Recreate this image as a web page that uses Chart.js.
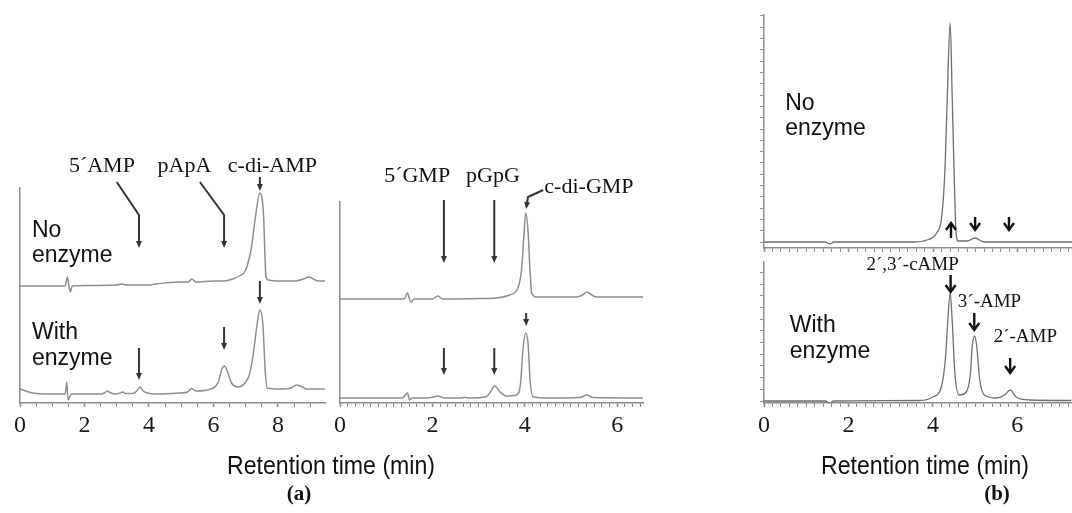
<!DOCTYPE html>
<html><head><meta charset="utf-8">
<script src="https://cdn.jsdelivr.net/npm/chart.js@4.4.1/dist/chart.umd.min.js"></script>
<style>
html,body{margin:0;padding:0;background:#fff;}
#wrap{position:relative;width:1072px;height:513px;overflow:hidden;background:#fff;}
canvas{position:absolute;left:0;top:0;}
</style></head><body>
<div id="wrap">
<canvas id="a1" width="1072" height="513"></canvas>
<canvas id="a2" width="1072" height="513"></canvas>
<canvas id="b1" width="1072" height="513"></canvas>
<canvas id="b2" width="1072" height="513"></canvas>
</div>
<script>
// ---------- Panel (a), left: c-di-AMP assay ----------
const a1NoEnzymeTime   = [0,0.5,1.0,1.4,1.47,1.52,1.56,1.62,2.0,3.0,3.15,3.3,4.0,4.2,5.0,5.22,5.33,5.45,6.0,6.3,6.6,6.8,7.0,7.18,7.29,7.44,7.55,7.63,7.70,8.0,8.5,8.8,8.95,9.1,9.25,9.46];
const a1NoEnzymeSignal = [117,117,117,117,126,117,111,117,117.5,118,119,118,118,119,121,121,124,121,122,122,124,127,133,156,183,210,190,126,123,122,122,124,126,124,122,122];
const a1WithEnzymeTime   = [0,0.4,0.93,1.4,1.45,1.49,1.53,1.6,2.07,2.5,2.62,2.71,2.82,2.95,3.1,3.18,3.27,3.5,3.62,3.72,3.82,3.95,4.24,4.96,5.2,5.32,5.45,6.0,6.15,6.25,6.34,6.44,6.56,6.77,6.98,7.13,7.24,7.36,7.44,7.53,7.61,7.67,8.06,8.4,8.58,8.75,8.89,9.46];
const a1WithEnzymeSignal = [14,10,9,9,21,3,5,9,9,9,10,12,10,9,10,11,9.5,9.5,12,16,12,10,9,10,11,14.5,12,15,21,33,37,31,20,16,20,30,50,80,93,80,30,15,14,15,18,16,14,14];
const a1TickLabels = ['0','2','4','6','8'];

// ---------- Panel (a), right: c-di-GMP assay ----------
const a2NoEnzymeTime   = [0,1.2,1.39,1.46,1.51,1.54,1.6,2.0,2.12,2.22,3.0,3.38,3.67,3.85,3.93,3.98,4.02,4.07,4.11,4.15,4.25,5.12,5.25,5.34,5.45,5.56,6.56];
const a2NoEnzymeSignal = [104,104,104,110,103,101,104,104,107,104,104.5,105,108,115,133,166,190,173,136,110,106,106,108,111,108,106,106];
const a2WithEnzymeTime   = [0,1.35,1.46,1.51,1.56,1.9,2.04,2.12,2.26,2.6,2.7,2.8,3.17,3.27,3.35,3.46,3.6,3.82,3.91,3.96,4.02,4.07,4.12,4.18,4.5,5.2,5.34,5.48,6.56];
const a2WithEnzymeSignal = [5,5,10,3,5,5,6.3,7,5,5,5.7,5,6.3,12,17,11.3,7,8,20,53,70,60,20,6.3,5,5.5,8,5.5,5];
const a2TickLabels = ['0','2','4','6'];

// ---------- Panel (b): 2',3'-cAMP assay ----------
const bNoEnzymeTime   = [0,1.45,1.56,1.65,3.5,3.85,4.08,4.2,4.28,4.33,4.4,4.45,4.5,4.54,4.59,4.8,4.99,5.2,7.3];
const bNoEnzymeSignal = [0,0,-2,0,0,2,9,25,75,142,219,142,59,9,1,1,4,0,0];
const bWithEnzymeTime   = [0,1.45,1.56,1.65,3.7,4.0,4.2,4.3,4.35,4.41,4.46,4.52,4.62,4.79,4.89,4.93,4.99,5.04,5.11,5.22,5.5,5.7,5.83,5.97,6.3,7.3];
const bWithEnzymeSignal = [0,0,-2,0,0.5,4,14,44,78,108,78,28,6,9,28,54,65,54,21,6,3,6,11,4,1,0.5];
const bTickLabels = ['0','2','4','6'];

// ---------- helpers ----------
const SERIF = '"Liberation Serif", "Times New Roman", serif';
const SANS = '"Liberation Sans", Arial, sans-serif';

function pts(ts, vs) { return ts.map((t, i) => ({x: t, y: vs[i]})); }
function isMajor(v) { return Math.abs(v / 2 - Math.round(v / 2)) < 1e-3; }

function xScale(min, max, step, labels) {
  return {
    type: 'linear', position: 'bottom', min, max,
    afterFit: s => { s.height = 50; },
    afterBuildTicks: s => {
      const arr = [];
      for (let k = 0; k * step <= max + 1e-9; k++) arr.push({value: +(k * step).toFixed(5)});
      s.ticks = arr;
    },
    ticks: {
      display: !!labels, autoSkip: false, maxRotation: 0, minRotation: 0, padding: 4,
      font: {family: SERIF, size: 24}, color: '#1a1a1a',
      callback: v => {
        if (!labels || !isMajor(v)) return '';
        const i = Math.round(v / 2);
        return labels[i] !== undefined ? labels[i] : '';
      }
    },
    grid: {display: true, drawOnChartArea: false, drawTicks: true, tickLength: 4,
      tickColor: '#8c8c8c', tickWidth: c => (c.tick && isMajor(c.tick.value)) ? 1.6 : 1},
    border: {display: true, color: '#8c8c8c', width: 1.5}
  };
}
function yScale(min, max, step) {
  const o = {
    type: 'linear', position: 'left', min, max,
    afterFit: s => { s.width = 0; },
    ticks: {display: false},
    grid: {display: !!step, drawOnChartArea: false, drawTicks: true, tickLength: 4, tickColor: '#8c8c8c', tickWidth: 1},
    border: {display: true, color: '#8c8c8c', width: 1.5}
  };
  if (step) {
    o.afterBuildTicks = s => {
      const arr = [];
      for (let k = 0; k * step <= max + 1e-9; k++) arr.push({value: +(k * step).toFixed(4)});
      s.ticks = arr;
    };
  }
  return o;
}

const notesPlugin = {
  id: 'notes',
  afterDraw(chart, args, opts) {
    const ctx = chart.ctx, xs = chart.scales.x, ys = chart.scales.y;
    const px = t => xs.getPixelForValue(t), py = v => ys.getPixelForValue(v);
    ctx.save();
    (opts.arrows || []).forEach(a => {
      const p = a.points.map(q => [px(q[0]), py(q[1])]);
      const [x1, y1] = p[p.length - 2], [x2, y2] = p[p.length - 1];
      const ang = Math.atan2(y2 - y1, x2 - x1);
      ctx.strokeStyle = a.color; ctx.fillStyle = a.color; ctx.lineWidth = a.width;
      ctx.lineJoin = 'miter'; ctx.lineCap = 'butt';
      ctx.beginPath();
      p.forEach((q, i) => {
        let X = q[0], Y = q[1];
        if (i === p.length - 1 && a.head === 'fill') { X -= Math.cos(ang) * a.hl * 0.8; Y -= Math.sin(ang) * a.hl * 0.8; }
        i ? ctx.lineTo(X, Y) : ctx.moveTo(X, Y);
      });
      ctx.stroke();
      const bx = x2 - Math.cos(ang) * a.hl, by = y2 - Math.sin(ang) * a.hl;
      const nx = -Math.sin(ang) * a.hw, ny = Math.cos(ang) * a.hw;
      if (a.head === 'fill') {
        ctx.beginPath(); ctx.moveTo(x2, y2); ctx.lineTo(bx + nx, by + ny); ctx.lineTo(bx - nx, by - ny); ctx.closePath(); ctx.fill();
      } else {
        ctx.beginPath(); ctx.moveTo(bx + nx, by + ny); ctx.lineTo(x2, y2); ctx.lineTo(bx - nx, by - ny); ctx.stroke();
      }
    });
    (opts.texts || []).forEach(t => {
      ctx.font = t.font; ctx.fillStyle = t.color || '#111';
      ctx.textAlign = t.align || 'center'; ctx.textBaseline = 'alphabetic';
      ctx.fillText(t.text, px(t.t), py(t.v));
    });
    (opts.pageTexts || []).forEach(t => {
      ctx.save();
      ctx.font = t.font; ctx.fillStyle = t.color || '#111';
      ctx.textAlign = 'center'; ctx.textBaseline = 'alphabetic';
      const w = ctx.measureText(t.text).width;
      const sx = t.width ? t.width / w : 1;
      ctx.translate(t.x, t.y); ctx.scale(sx, 1);
      ctx.fillText(t.text, 0, 0);
      ctx.restore();
    });
    ctx.restore();
  }
};

function lineDs(data, color, width) {
  return {data, borderColor: color, borderWidth: width, pointRadius: 0, fill: false,
    cubicInterpolationMode: 'monotone'};
}
function makeChart(id, padding, datasets, x, y, notes) {
  return new Chart(document.getElementById(id), {
    type: 'line',
    data: {datasets},
    options: {
      responsive: false, animation: false, events: [],
      layout: {padding, autoPadding: false},
      scales: {x, y},
      plugins: {legend: {display: false}, tooltip: {enabled: false}, notes}
    },
    plugins: [notesPlugin]
  });
}

const A_ARROW = {color: '#333', width: 2, head: 'fill', hl: 7, hw: 3};
const B_ARROW = {color: '#111', width: 2.4, head: 'v', hl: 7, hw: 5};
const peakFontA = '22px ' + SERIF, peakFontB = '19px ' + SERIF, sampleFont = '23px ' + SANS;
const titleFont = '26px ' + SANS;

// (a) left
makeChart('a1', {left: 20, top: 188, right: 747, bottom: 60},
  [lineDs(pts(a1NoEnzymeTime, a1NoEnzymeSignal), '#8e8e8e', 1.5),
   lineDs(pts(a1WithEnzymeTime, a1WithEnzymeSignal), '#8e8e8e', 1.5)],
  xScale(0, 9.46, 0.5, a1TickLabels), yScale(0, 215, 0),
  {
    texts: [
      {text: '5\u00B4AMP', t: 2.54, v: 231, font: peakFontA},
      {text: 'pApA', t: 5.1, v: 231, font: peakFontA},
      {text: 'c-di-AMP', t: 7.83, v: 231, font: peakFontA},
      {text: 'No', t: 0.37, v: 166, font: sampleFont, align: 'left'},
      {text: 'enzyme', t: 0.37, v: 141, font: sampleFont, align: 'left'},
      {text: 'With', t: 0.37, v: 64, font: sampleFont, align: 'left'},
      {text: 'enzyme', t: 0.37, v: 38, font: sampleFont, align: 'left'}
    ],
    arrows: [
      {...A_ARROW, points: [[3.0, 221], [3.69, 188], [3.69, 155]]},
      {...A_ARROW, points: [[5.58, 221], [6.33, 188], [6.33, 155]]},
      {...A_ARROW, points: [[7.44, 226], [7.44, 212]]},
      {...A_ARROW, points: [[7.44, 122], [7.44, 99]]},
      {...A_ARROW, points: [[6.33, 76], [6.33, 53]]},
      {...A_ARROW, points: [[3.69, 55], [3.69, 23]]}
    ],
    pageTexts: [
      {text: 'Retention time (min)', x: 331, y: 474, font: titleFont, width: 208},
      {text: '(a)', x: 299, y: 500, font: 'bold 21px ' + SERIF}
    ]
  });

// (a) right
makeChart('a2', {left: 340, top: 202, right: 429, bottom: 60},
  [lineDs(pts(a2NoEnzymeTime, a2NoEnzymeSignal), '#8e8e8e', 1.5),
   lineDs(pts(a2WithEnzymeTime, a2WithEnzymeSignal), '#8e8e8e', 1.5)],
  xScale(0, 6.56, 1 / 6, a2TickLabels), yScale(0, 201, 0),
  {
    texts: [
      {text: '5\u00B4GMP', t: 1.67, v: 221, font: peakFontA},
      {text: 'pGpG', t: 3.31, v: 221, font: peakFontA},
      {text: 'c-di-GMP', t: 5.39, v: 210, font: peakFontA}
    ],
    arrows: [
      {...A_ARROW, points: [[2.25, 203], [2.25, 140]]},
      {...A_ARROW, points: [[3.34, 203], [3.34, 140]]},
      {...A_ARROW, points: [[4.40, 213], [4.07, 206], [4.03, 194]]},
      {...A_ARROW, points: [[4.03, 90], [4.03, 77]]},
      {...A_ARROW, points: [[2.25, 55], [2.25, 28]]},
      {...A_ARROW, points: [[3.34, 55], [3.34, 28]]}
    ]
  });

// (b) top
makeChart('b1', {left: 764, top: 15, right: 0, bottom: 215},
  [lineDs(pts(bNoEnzymeTime, bNoEnzymeSignal), '#6e6e6e', 1.3)],
  xScale(0, 7.28, 0.2, null), yScale(-6, 227, 11.3),
  {
    texts: [
      {text: 'No', t: 0.5, v: 132, font: sampleFont, align: 'left'},
      {text: 'enzyme', t: 0.5, v: 107, font: sampleFont, align: 'left'}
    ],
    arrows: [
      {...B_ARROW, points: [[4.42, 4], [4.42, 19]]},
      {...B_ARROW, points: [[4.99, 25], [4.99, 12]]},
      {...B_ARROW, points: [[5.79, 25], [5.79, 12]]}
    ]
  });

// (b) bottom
makeChart('b2', {left: 764, top: 262, right: 0, bottom: 60},
  [lineDs(pts(bWithEnzymeTime, bWithEnzymeSignal), '#6e6e6e', 1.3)],
  xScale(0, 7.28, 0.2, bTickLabels), yScale(-2, 139, 11.7),
  {
    texts: [
      {text: '2\u00B4,3\u00B4-cAMP', t: 3.52, v: 131, font: peakFontB},
      {text: '3\u00B4-AMP', t: 5.34, v: 94, font: peakFontB},
      {text: '2\u00B4-AMP', t: 6.19, v: 59, font: peakFontB},
      {text: 'With', t: 0.61, v: 69, font: sampleFont, align: 'left'},
      {text: 'enzyme', t: 0.61, v: 43, font: sampleFont, align: 'left'}
    ],
    arrows: [
      {...B_ARROW, points: [[4.42, 126], [4.42, 109]]},
      {...B_ARROW, points: [[4.98, 88], [4.98, 71]]},
      {...B_ARROW, points: [[5.83, 43], [5.83, 28]]}
    ],
    pageTexts: [
      {text: 'Retention time (min)', x: 925, y: 474, font: titleFont, width: 208},
      {text: '(b)', x: 997, y: 500, font: 'bold 21px ' + SERIF}
    ]
  });
</script>
</body></html>
